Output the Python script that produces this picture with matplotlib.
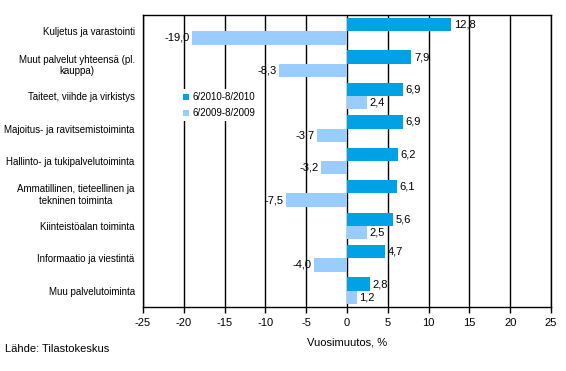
import numpy as np
import matplotlib
matplotlib.use("Agg")
import matplotlib.pyplot as plt

plt.rcParams["font.family"] = ["Liberation Sans", "DejaVu Sans"]

categories = [
    "Kuljetus ja varastointi",
    "Muut palvelut yhteensä (pl.\nkauppa)",
    "Taiteet, viihde ja virkistys",
    "Majoitus- ja ravitsemistoiminta",
    "Hallinto- ja tukipalvelutoiminta",
    "Ammatillinen, tieteellinen ja\ntekninen toiminta",
    "Kiinteistöalan toiminta",
    "Informaatio ja viestintä",
    "Muu palvelutoiminta",
]
s2010 = [12.8, 7.9, 6.9, 6.9, 6.2, 6.1, 5.6, 4.7, 2.8]
s2009 = [-19.0, -8.3, 2.4, -3.7, -3.2, -7.5, 2.5, -4.0, 1.2]
labels = ["6/2010-8/2010", "6/2009-8/2009"]

dark = "#00A2E6"
light = "#99CCFF"

fig = plt.figure(figsize=(5.66, 3.71), dpi=100)
ax = fig.add_axes([0.2527, 0.1725, 0.7208, 0.7871])

y = np.arange(len(categories))
h = 0.41
ax.barh(y - h / 2, s2010, height=h, color=dark, label=labels[0], zorder=3)
ax.barh(y + h / 2, s2009, height=h, color=light, label=labels[1], zorder=3)

def fmt(v):
    return f"{v:.1f}".replace(".", ",")

for yi, v in zip(y, s2010):
    ax.text(v + 0.3 if v >= 0 else v - 0.3, yi - h / 2, fmt(v),
            ha="left" if v >= 0 else "right", va="center", fontsize=8, zorder=4)
for yi, v in zip(y, s2009):
    ax.text(v + 0.3 if v >= 0 else v - 0.3, yi + h / 2, fmt(v),
            ha="left" if v >= 0 else "right", va="center", fontsize=8, zorder=4)

ax.set_xlim(-25, 25)
ax.set_ylim(len(categories) - 0.5, -0.5)
ax.set_xticks(range(-25, 26, 5))
ax.set_xticklabels([str(t) for t in range(-25, 26, 5)], fontsize=8)
ax.set_yticks(y)
ax.set_yticklabels(categories, fontsize=7, multialignment="center")
ax.tick_params(axis="y", length=0, pad=6)
ax.tick_params(axis="x", direction="out", length=4, width=1, pad=4)
ax.grid(axis="x", color="black", linewidth=1, zorder=0)
for sp in ax.spines.values():
    sp.set_color("black")
    sp.set_linewidth(1)

ax.set_xlabel("Vuosimuutos, %", fontsize=8, labelpad=7)

leg = ax.legend(loc="upper left", bbox_to_anchor=(0.092, 0.745), frameon=True,
                facecolor="white", edgecolor="none", framealpha=1, fancybox=False,
                fontsize=7, handlelength=0.6, handleheight=0.6,
                handletextpad=0.3, labelspacing=0.6, borderpad=0.3, borderaxespad=0)
leg.set_zorder(5)

fig.text(0.009, 0.052, "Lähde: Tilastokeskus", fontsize=8)

fig.savefig("out.png", dpi=100)
